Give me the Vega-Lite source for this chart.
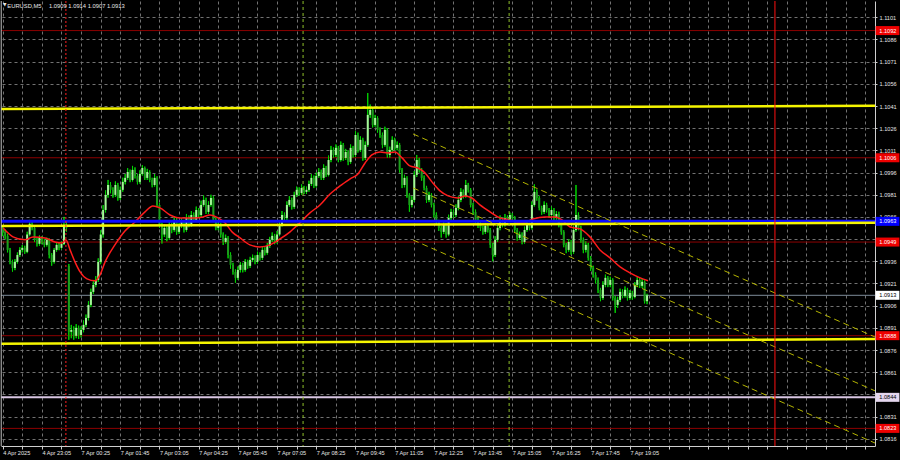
{
"$schema": "https://vega.github.io/schema/vega-lite/v6.json",
"width": 874, "height": 445,
"autosize": {"type": "none"},
"padding": {"left": 1, "top": 1, "right": 25, "bottom": 14},
"background": "#000000",
"config": {"view": {"stroke": null}, "axis": {"labelOverlap": false, "labelFlush": false, "labelBound": false, "tickCount": 100}},
"datasets": {
"boxes": [
{"p":1.1092,"lab":"1.1092","k":"r"},{"p":1.1006,"lab":"1.1006","k":"r"},{"p":1.0963,"lab":"1.0963","k":"b"},{"p":1.0949,"lab":"1.0949","k":"r"},{"p":1.0913,"lab":"1.0913","k":"w"},{"p":1.08857,"lab":"1.0888","k":"r"},{"p":1.0844,"lab":"1.0844","k":"v"},{"p":1.0823,"lab":"1.0823","k":"r"}
],
"candles": [
{"i":0,"o":1.0958,"h":1.096,"l":1.0953,"c":1.09559},
{"i":1,"o":1.09559,"h":1.09575,"l":1.0951,"c":1.09532},
{"i":2,"o":1.09532,"h":1.09545,"l":1.0942,"c":1.09437},
{"i":3,"o":1.09437,"h":1.0945,"l":1.0934,"c":1.09356},
{"i":4,"o":1.09356,"h":1.0937,"l":1.0929,"c":1.09315},
{"i":5,"o":1.09315,"h":1.09375,"l":1.093,"c":1.09356},
{"i":6,"o":1.09356,"h":1.0942,"l":1.09345,"c":1.09403},
{"i":7,"o":1.09403,"h":1.09455,"l":1.0939,"c":1.09437},
{"i":8,"o":1.09437,"h":1.0947,"l":1.0942,"c":1.09451},
{"i":9,"o":1.09451,"h":1.09465,"l":1.0941,"c":1.09424},
{"i":10,"o":1.09424,"h":1.0956,"l":1.09415,"c":1.09541},
{"i":11,"o":1.09541,"h":1.0964,"l":1.0953,"c":1.09613},
{"i":12,"o":1.09613,"h":1.09625,"l":1.0957,"c":1.09586},
{"i":13,"o":1.09586,"h":1.09595,"l":1.0949,"c":1.09505},
{"i":14,"o":1.09505,"h":1.0952,"l":1.0946,"c":1.09478},
{"i":15,"o":1.09478,"h":1.09535,"l":1.09465,"c":1.09518},
{"i":16,"o":1.09518,"h":1.0953,"l":1.09475,"c":1.09491},
{"i":17,"o":1.09491,"h":1.0951,"l":1.09455,"c":1.09471},
{"i":18,"o":1.09471,"h":1.0952,"l":1.0946,"c":1.09505},
{"i":19,"o":1.09505,"h":1.09515,"l":1.0938,"c":1.09403},
{"i":20,"o":1.09403,"h":1.09415,"l":1.0933,"c":1.09356},
{"i":21,"o":1.09356,"h":1.0945,"l":1.09345,"c":1.09437},
{"i":22,"o":1.09437,"h":1.0949,"l":1.09425,"c":1.09471},
{"i":23,"o":1.09471,"h":1.09485,"l":1.09435,"c":1.09451},
{"i":24,"o":1.09451,"h":1.09495,"l":1.0944,"c":1.09478},
{"i":25,"o":1.09478,"h":1.0966,"l":1.0947,"c":1.09606},
{"i":26,"o":1.09606,"h":1.09625,"l":1.0956,"c":1.09586},
{"i":27,"o":1.09329,"h":1.09342,"l":1.08829,"c":1.08883},
{"i":28,"o":1.08883,"h":1.0893,"l":1.0884,"c":1.08896},
{"i":29,"o":1.08896,"h":1.0892,"l":1.0883,"c":1.08856},
{"i":30,"o":1.08856,"h":1.08935,"l":1.0884,"c":1.0891},
{"i":31,"o":1.0891,"h":1.08925,"l":1.08835,"c":1.08862},
{"i":32,"o":1.08862,"h":1.0892,"l":1.08845,"c":1.08896},
{"i":33,"o":1.08896,"h":1.0896,"l":1.0888,"c":1.0893},
{"i":34,"o":1.0893,"h":1.09,"l":1.08915,"c":1.08977},
{"i":35,"o":1.08977,"h":1.0909,"l":1.0896,"c":1.09065},
{"i":36,"o":1.09065,"h":1.09175,"l":1.0905,"c":1.09153},
{"i":37,"o":1.09153,"h":1.09225,"l":1.0914,"c":1.092},
{"i":38,"o":1.092,"h":1.0926,"l":1.09185,"c":1.09234},
{"i":39,"o":1.09234,"h":1.0938,"l":1.0922,"c":1.09356},
{"i":40,"o":1.09356,"h":1.0957,"l":1.0934,"c":1.09541},
{"i":41,"o":1.09541,"h":1.0974,"l":1.0952,"c":1.09707},
{"i":42,"o":1.09707,"h":1.0984,"l":1.0969,"c":1.09809},
{"i":43,"o":1.09809,"h":1.0991,"l":1.0979,"c":1.09876},
{"i":44,"o":1.09876,"h":1.09895,"l":1.0982,"c":1.09843},
{"i":45,"o":1.09843,"h":1.0986,"l":1.0979,"c":1.09809},
{"i":46,"o":1.09809,"h":1.099,"l":1.09795,"c":1.09876},
{"i":47,"o":1.09876,"h":1.0989,"l":1.0977,"c":1.09788},
{"i":48,"o":1.09788,"h":1.09865,"l":1.09775,"c":1.09843},
{"i":49,"o":1.09843,"h":1.09925,"l":1.0983,"c":1.09897},
{"i":50,"o":1.09897,"h":1.0995,"l":1.0988,"c":1.09924},
{"i":51,"o":1.09924,"h":1.0999,"l":1.0991,"c":1.09964},
{"i":52,"o":1.09964,"h":1.0998,"l":1.09895,"c":1.0991},
{"i":53,"o":1.0991,"h":1.10005,"l":1.099,"c":1.09978},
{"i":54,"o":1.09978,"h":1.09995,"l":1.0992,"c":1.09937},
{"i":55,"o":1.09937,"h":1.0995,"l":1.0988,"c":1.09897},
{"i":56,"o":1.09897,"h":1.09975,"l":1.09885,"c":1.09951},
{"i":57,"o":1.09951,"h":1.1001,"l":1.0994,"c":1.09991},
{"i":58,"o":1.09991,"h":1.1,"l":1.0991,"c":1.09924},
{"i":59,"o":1.09924,"h":1.09985,"l":1.0991,"c":1.09964},
{"i":60,"o":1.09964,"h":1.09975,"l":1.09895,"c":1.0991},
{"i":61,"o":1.0991,"h":1.09925,"l":1.0986,"c":1.09876},
{"i":62,"o":1.09876,"h":1.0995,"l":1.09865,"c":1.09924},
{"i":63,"o":1.09924,"h":1.09935,"l":1.09725,"c":1.09741},
{"i":64,"o":1.09741,"h":1.09755,"l":1.09585,"c":1.09606},
{"i":65,"o":1.09606,"h":1.0962,"l":1.0948,"c":1.09541},
{"i":66,"o":1.09541,"h":1.0961,"l":1.09525,"c":1.09586},
{"i":67,"o":1.09586,"h":1.096,"l":1.09495,"c":1.09518},
{"i":68,"o":1.09518,"h":1.09625,"l":1.09505,"c":1.09606},
{"i":69,"o":1.09606,"h":1.0962,"l":1.0955,"c":1.09572},
{"i":70,"o":1.09572,"h":1.09665,"l":1.0956,"c":1.0964},
{"i":71,"o":1.0964,"h":1.09655,"l":1.0954,"c":1.09559},
{"i":72,"o":1.09559,"h":1.0962,"l":1.09545,"c":1.09599},
{"i":73,"o":1.09599,"h":1.0965,"l":1.09585,"c":1.09626},
{"i":74,"o":1.09626,"h":1.0964,"l":1.09555,"c":1.09572},
{"i":75,"o":1.09572,"h":1.0968,"l":1.0956,"c":1.09653},
{"i":76,"o":1.09653,"h":1.0967,"l":1.0959,"c":1.09606},
{"i":77,"o":1.09606,"h":1.097,"l":1.09595,"c":1.09673},
{"i":78,"o":1.09673,"h":1.0969,"l":1.09625,"c":1.0964},
{"i":79,"o":1.0964,"h":1.0973,"l":1.0963,"c":1.09707},
{"i":80,"o":1.09707,"h":1.0972,"l":1.09655,"c":1.09673},
{"i":81,"o":1.09673,"h":1.0977,"l":1.0966,"c":1.09741},
{"i":82,"o":1.09741,"h":1.09805,"l":1.0973,"c":1.09775},
{"i":83,"o":1.09775,"h":1.0979,"l":1.0968,"c":1.09694},
{"i":84,"o":1.09694,"h":1.09765,"l":1.0968,"c":1.09741},
{"i":85,"o":1.09741,"h":1.0981,"l":1.0973,"c":1.09788},
{"i":86,"o":1.09788,"h":1.098,"l":1.09625,"c":1.0964},
{"i":87,"o":1.0964,"h":1.09655,"l":1.0957,"c":1.09586},
{"i":88,"o":1.09586,"h":1.0963,"l":1.0957,"c":1.09606},
{"i":89,"o":1.09606,"h":1.0962,"l":1.0952,"c":1.09541},
{"i":90,"o":1.09541,"h":1.09555,"l":1.0947,"c":1.09491},
{"i":91,"o":1.09491,"h":1.0954,"l":1.0948,"c":1.09518},
{"i":92,"o":1.09518,"h":1.0953,"l":1.0938,"c":1.09403},
{"i":93,"o":1.09403,"h":1.0942,"l":1.0931,"c":1.09336},
{"i":94,"o":1.09336,"h":1.0935,"l":1.0927,"c":1.09288},
{"i":95,"o":1.09288,"h":1.09305,"l":1.09215,"c":1.09248},
{"i":96,"o":1.09248,"h":1.09325,"l":1.09235,"c":1.09302},
{"i":97,"o":1.09302,"h":1.09355,"l":1.09285,"c":1.09336},
{"i":98,"o":1.09336,"h":1.0935,"l":1.09285,"c":1.09302},
{"i":99,"o":1.09302,"h":1.09375,"l":1.0929,"c":1.09356},
{"i":100,"o":1.09356,"h":1.0937,"l":1.0931,"c":1.09329},
{"i":101,"o":1.09329,"h":1.0939,"l":1.09315,"c":1.09369},
{"i":102,"o":1.09369,"h":1.09405,"l":1.09355,"c":1.09383},
{"i":103,"o":1.09383,"h":1.094,"l":1.0934,"c":1.09356},
{"i":104,"o":1.09356,"h":1.09425,"l":1.09345,"c":1.09403},
{"i":105,"o":1.09403,"h":1.0942,"l":1.09365,"c":1.09383},
{"i":106,"o":1.09383,"h":1.0946,"l":1.0937,"c":1.09437},
{"i":107,"o":1.09437,"h":1.09455,"l":1.094,"c":1.09417},
{"i":108,"o":1.09417,"h":1.09485,"l":1.09405,"c":1.09464},
{"i":109,"o":1.09464,"h":1.09525,"l":1.0945,"c":1.09505},
{"i":110,"o":1.09505,"h":1.09555,"l":1.0949,"c":1.09532},
{"i":111,"o":1.09532,"h":1.09545,"l":1.09475,"c":1.09491},
{"i":112,"o":1.09491,"h":1.09565,"l":1.0948,"c":1.09541},
{"i":113,"o":1.09541,"h":1.0963,"l":1.0953,"c":1.09606},
{"i":114,"o":1.09606,"h":1.097,"l":1.09595,"c":1.09673},
{"i":115,"o":1.09673,"h":1.0969,"l":1.09635,"c":1.09653},
{"i":116,"o":1.09653,"h":1.09765,"l":1.0964,"c":1.09741},
{"i":117,"o":1.09741,"h":1.098,"l":1.0973,"c":1.09775},
{"i":118,"o":1.09775,"h":1.0979,"l":1.0971,"c":1.09728},
{"i":119,"o":1.09728,"h":1.0983,"l":1.09715,"c":1.09809},
{"i":120,"o":1.09809,"h":1.09865,"l":1.09795,"c":1.09843},
{"i":121,"o":1.09843,"h":1.0986,"l":1.09805,"c":1.09822},
{"i":122,"o":1.09822,"h":1.0988,"l":1.0981,"c":1.09856},
{"i":123,"o":1.09856,"h":1.0987,"l":1.09815,"c":1.09829},
{"i":124,"o":1.09829,"h":1.09865,"l":1.09815,"c":1.09843},
{"i":125,"o":1.09843,"h":1.09905,"l":1.0983,"c":1.09883},
{"i":126,"o":1.09883,"h":1.0995,"l":1.0987,"c":1.09924},
{"i":127,"o":1.09924,"h":1.0994,"l":1.09855,"c":1.0987},
{"i":128,"o":1.0987,"h":1.0996,"l":1.0986,"c":1.09937},
{"i":129,"o":1.09937,"h":1.0999,"l":1.09925,"c":1.09964},
{"i":130,"o":1.09964,"h":1.0998,"l":1.0991,"c":1.09924},
{"i":131,"o":1.09924,"h":1.10015,"l":1.0991,"c":1.09991},
{"i":132,"o":1.09991,"h":1.10005,"l":1.0993,"c":1.09944},
{"i":133,"o":1.09944,"h":1.10075,"l":1.09935,"c":1.10045},
{"i":134,"o":1.10045,"h":1.1014,"l":1.1003,"c":1.10113},
{"i":135,"o":1.10113,"h":1.1013,"l":1.1006,"c":1.10079},
{"i":136,"o":1.10079,"h":1.1015,"l":1.10065,"c":1.10127},
{"i":137,"o":1.10127,"h":1.1014,"l":1.1003,"c":1.10045},
{"i":138,"o":1.10045,"h":1.1017,"l":1.10035,"c":1.10147},
{"i":139,"o":1.10147,"h":1.1016,"l":1.1004,"c":1.10059},
{"i":140,"o":1.10059,"h":1.1012,"l":1.10045,"c":1.10099},
{"i":141,"o":1.10099,"h":1.1011,"l":1.1001,"c":1.10032},
{"i":142,"o":1.10032,"h":1.1015,"l":1.1002,"c":1.10127},
{"i":143,"o":1.10127,"h":1.1014,"l":1.1006,"c":1.10079},
{"i":144,"o":1.10079,"h":1.1024,"l":1.10065,"c":1.10214},
{"i":145,"o":1.10214,"h":1.1023,"l":1.10095,"c":1.10113},
{"i":146,"o":1.10113,"h":1.10205,"l":1.101,"c":1.10181},
{"i":147,"o":1.10181,"h":1.10195,"l":1.1004,"c":1.10059},
{"i":148,"o":1.10059,"h":1.1017,"l":1.10045,"c":1.10147},
{"i":149,"o":1.10147,"h":1.10498,"l":1.10135,"c":1.1035},
{"i":150,"o":1.1035,"h":1.1042,"l":1.1033,"c":1.10383},
{"i":151,"o":1.10383,"h":1.10395,"l":1.10265,"c":1.10282},
{"i":152,"o":1.10282,"h":1.1035,"l":1.1027,"c":1.10329},
{"i":153,"o":1.10329,"h":1.1034,"l":1.1023,"c":1.10248},
{"i":154,"o":1.10248,"h":1.10265,"l":1.10195,"c":1.10214},
{"i":155,"o":1.10214,"h":1.1023,"l":1.10125,"c":1.10147},
{"i":156,"o":1.10147,"h":1.1027,"l":1.10135,"c":1.10248},
{"i":157,"o":1.10248,"h":1.1026,"l":1.1006,"c":1.10079},
{"i":158,"o":1.10079,"h":1.10135,"l":1.1006,"c":1.10113},
{"i":159,"o":1.10113,"h":1.10205,"l":1.101,"c":1.10181},
{"i":160,"o":1.10181,"h":1.10195,"l":1.1011,"c":1.10127},
{"i":161,"o":1.10127,"h":1.1017,"l":1.1011,"c":1.10147},
{"i":162,"o":1.10147,"h":1.1016,"l":1.0996,"c":1.09978},
{"i":163,"o":1.09978,"h":1.0999,"l":1.09855,"c":1.09876},
{"i":164,"o":1.09876,"h":1.09945,"l":1.0986,"c":1.09924},
{"i":165,"o":1.09924,"h":1.09935,"l":1.0979,"c":1.09809},
{"i":166,"o":1.09809,"h":1.0982,"l":1.09695,"c":1.09741},
{"i":167,"o":1.09741,"h":1.098,"l":1.09725,"c":1.09775},
{"i":168,"o":1.09775,"h":1.0997,"l":1.0976,"c":1.09944},
{"i":169,"o":1.09944,"h":1.10079,"l":1.0993,"c":1.10045},
{"i":170,"o":1.10045,"h":1.1006,"l":1.0996,"c":1.09978},
{"i":171,"o":1.09978,"h":1.0999,"l":1.09905,"c":1.09924},
{"i":172,"o":1.09924,"h":1.0994,"l":1.0984,"c":1.09856},
{"i":173,"o":1.09856,"h":1.0987,"l":1.09755,"c":1.09775},
{"i":174,"o":1.09775,"h":1.0983,"l":1.0976,"c":1.09809},
{"i":175,"o":1.09809,"h":1.0982,"l":1.09725,"c":1.09741},
{"i":176,"o":1.09741,"h":1.09755,"l":1.09655,"c":1.09673},
{"i":177,"o":1.09673,"h":1.0969,"l":1.09605,"c":1.09626},
{"i":178,"o":1.09626,"h":1.0964,"l":1.09565,"c":1.09586},
{"i":179,"o":1.09586,"h":1.096,"l":1.0952,"c":1.09559},
{"i":180,"o":1.09559,"h":1.09625,"l":1.09545,"c":1.09606},
{"i":181,"o":1.09606,"h":1.0962,"l":1.0952,"c":1.09541},
{"i":182,"o":1.09541,"h":1.09675,"l":1.0953,"c":1.09653},
{"i":183,"o":1.09653,"h":1.09715,"l":1.0964,"c":1.09694},
{"i":184,"o":1.09694,"h":1.0971,"l":1.09655,"c":1.09673},
{"i":185,"o":1.09673,"h":1.09745,"l":1.0966,"c":1.09721},
{"i":186,"o":1.09721,"h":1.098,"l":1.09705,"c":1.09775},
{"i":187,"o":1.09775,"h":1.09855,"l":1.0976,"c":1.09829},
{"i":188,"o":1.09829,"h":1.09845,"l":1.09785,"c":1.09802},
{"i":189,"o":1.09802,"h":1.0991,"l":1.0979,"c":1.09876},
{"i":190,"o":1.09876,"h":1.0989,"l":1.09825,"c":1.09843},
{"i":191,"o":1.09843,"h":1.09855,"l":1.09725,"c":1.09741},
{"i":192,"o":1.09741,"h":1.09755,"l":1.09675,"c":1.09694},
{"i":193,"o":1.09694,"h":1.0971,"l":1.0962,"c":1.0964},
{"i":194,"o":1.0964,"h":1.09655,"l":1.09585,"c":1.09606},
{"i":195,"o":1.09606,"h":1.09625,"l":1.09565,"c":1.09586},
{"i":196,"o":1.09586,"h":1.096,"l":1.0954,"c":1.09559},
{"i":197,"o":1.09559,"h":1.0962,"l":1.09545,"c":1.09599},
{"i":198,"o":1.09599,"h":1.09615,"l":1.09555,"c":1.09572},
{"i":199,"o":1.09572,"h":1.09585,"l":1.0945,"c":1.09471},
{"i":200,"o":1.09471,"h":1.09485,"l":1.0936,"c":1.09403},
{"i":201,"o":1.09403,"h":1.0953,"l":1.0939,"c":1.09505},
{"i":202,"o":1.09505,"h":1.0961,"l":1.0949,"c":1.09586},
{"i":203,"o":1.09586,"h":1.0967,"l":1.0957,"c":1.0964},
{"i":204,"o":1.0964,"h":1.09655,"l":1.0959,"c":1.09606},
{"i":205,"o":1.09606,"h":1.0968,"l":1.09595,"c":1.09653},
{"i":206,"o":1.09653,"h":1.0967,"l":1.09625,"c":1.0964},
{"i":207,"o":1.0964,"h":1.0969,"l":1.09625,"c":1.09673},
{"i":208,"o":1.09673,"h":1.09685,"l":1.0964,"c":1.09653},
{"i":209,"o":1.09653,"h":1.09665,"l":1.09555,"c":1.09572},
{"i":210,"o":1.09572,"h":1.09585,"l":1.095,"c":1.09518},
{"i":211,"o":1.09518,"h":1.0956,"l":1.09505,"c":1.09541},
{"i":212,"o":1.09541,"h":1.09555,"l":1.09475,"c":1.09491},
{"i":213,"o":1.09491,"h":1.09595,"l":1.0948,"c":1.09572},
{"i":214,"o":1.09572,"h":1.0963,"l":1.0956,"c":1.09606},
{"i":215,"o":1.09606,"h":1.0962,"l":1.0957,"c":1.09586},
{"i":216,"o":1.09586,"h":1.09765,"l":1.09575,"c":1.09741},
{"i":217,"o":1.09741,"h":1.0988,"l":1.0973,"c":1.09829},
{"i":218,"o":1.09829,"h":1.09845,"l":1.0977,"c":1.09788},
{"i":219,"o":1.09788,"h":1.098,"l":1.09705,"c":1.09721},
{"i":220,"o":1.09721,"h":1.09735,"l":1.09675,"c":1.09694},
{"i":221,"o":1.09694,"h":1.09765,"l":1.0968,"c":1.09741},
{"i":222,"o":1.09741,"h":1.09755,"l":1.0969,"c":1.09707},
{"i":223,"o":1.09707,"h":1.0972,"l":1.09655,"c":1.09673},
{"i":224,"o":1.09673,"h":1.0973,"l":1.0966,"c":1.09707},
{"i":225,"o":1.09707,"h":1.0972,"l":1.09635,"c":1.09653},
{"i":226,"o":1.09653,"h":1.097,"l":1.0964,"c":1.0968},
{"i":227,"o":1.0968,"h":1.09695,"l":1.0959,"c":1.09606},
{"i":228,"o":1.09606,"h":1.0962,"l":1.0954,"c":1.09559},
{"i":229,"o":1.09559,"h":1.0957,"l":1.09455,"c":1.09471},
{"i":230,"o":1.09471,"h":1.09485,"l":1.09415,"c":1.09437},
{"i":231,"o":1.09437,"h":1.0951,"l":1.09425,"c":1.09491},
{"i":232,"o":1.09491,"h":1.09505,"l":1.09405,"c":1.09424},
{"i":233,"o":1.09424,"h":1.096,"l":1.0941,"c":1.09572},
{"i":234,"o":1.09572,"h":1.09876,"l":1.0956,"c":1.09673},
{"i":235,"o":1.09673,"h":1.0969,"l":1.0957,"c":1.09586},
{"i":236,"o":1.09586,"h":1.096,"l":1.09485,"c":1.09505},
{"i":237,"o":1.09505,"h":1.0952,"l":1.09415,"c":1.09437},
{"i":238,"o":1.09437,"h":1.09495,"l":1.0942,"c":1.09471},
{"i":239,"o":1.09471,"h":1.09485,"l":1.09365,"c":1.09383},
{"i":240,"o":1.09383,"h":1.09395,"l":1.09295,"c":1.09315},
{"i":241,"o":1.09315,"h":1.0933,"l":1.0925,"c":1.09268},
{"i":242,"o":1.09268,"h":1.09285,"l":1.0921,"c":1.09234},
{"i":243,"o":1.09234,"h":1.0925,"l":1.09145,"c":1.09167},
{"i":244,"o":1.09167,"h":1.0918,"l":1.0909,"c":1.09112},
{"i":245,"o":1.09112,"h":1.09225,"l":1.091,"c":1.092},
{"i":246,"o":1.092,"h":1.0927,"l":1.09185,"c":1.09248},
{"i":247,"o":1.09248,"h":1.0926,"l":1.09185,"c":1.092},
{"i":248,"o":1.092,"h":1.09255,"l":1.09185,"c":1.09234},
{"i":249,"o":1.09234,"h":1.09245,"l":1.09095,"c":1.09112},
{"i":250,"o":1.09112,"h":1.09125,"l":1.09011,"c":1.09065},
{"i":251,"o":1.09065,"h":1.0912,"l":1.09045,"c":1.09099},
{"i":252,"o":1.09099,"h":1.09175,"l":1.09085,"c":1.09153},
{"i":253,"o":1.09153,"h":1.0917,"l":1.0911,"c":1.09126},
{"i":254,"o":1.09126,"h":1.0919,"l":1.09115,"c":1.09167},
{"i":255,"o":1.09167,"h":1.0918,"l":1.09095,"c":1.09112},
{"i":256,"o":1.09112,"h":1.09165,"l":1.091,"c":1.09146},
{"i":257,"o":1.09146,"h":1.0916,"l":1.091,"c":1.09119},
{"i":258,"o":1.09119,"h":1.0922,"l":1.0911,"c":1.092},
{"i":259,"o":1.092,"h":1.09255,"l":1.09185,"c":1.09234},
{"i":260,"o":1.09234,"h":1.0925,"l":1.0918,"c":1.09194},
{"i":261,"o":1.09194,"h":1.0924,"l":1.0918,"c":1.09221},
{"i":262,"o":1.09221,"h":1.0923,"l":1.09075,"c":1.0909},
{"i":263,"o":1.0909,"h":1.0914,"l":1.0907,"c":1.0913}
],
"ma": [
{"i":0.1,"m":1.09586},{"i":4.2,"m":1.09525},{"i":9.1,"m":1.09505},{"i":12.4,"m":1.09525},{"i":17.3,"m":1.09518},{"i":21.3,"m":1.09491},{"i":24.2,"m":1.09484},{"i":25.8,"m":1.09505},{"i":27.5,"m":1.09437},{"i":29.5,"m":1.09356},{"i":31.6,"m":1.09288},{"i":34.4,"m":1.09241},{"i":37.7,"m":1.09228},{"i":39.7,"m":1.09268},{"i":41.8,"m":1.09356},{"i":45.8,"m":1.09471},{"i":49.9,"m":1.09565},{"i":54,"m":1.09626},{"i":58.1,"m":1.09694},{"i":61.3,"m":1.09734},{"i":64.2,"m":1.09721},{"i":68.3,"m":1.09673},{"i":72.4,"m":1.09653},{"i":78.5,"m":1.09653},{"i":81.8,"m":1.0966},{"i":84.6,"m":1.09673},{"i":87.9,"m":1.09653},{"i":90.7,"m":1.0962},{"i":93.6,"m":1.09559},{"i":96.9,"m":1.09518},{"i":100.9,"m":1.09471},{"i":105,"m":1.09457},{"i":109.1,"m":1.09471},{"i":113.2,"m":1.09511},{"i":117.3,"m":1.09559},{"i":121.3,"m":1.0962},{"i":125.4,"m":1.09687},{"i":129.5,"m":1.09741},{"i":133.6,"m":1.09815},{"i":137.7,"m":1.0987},{"i":141.8,"m":1.09917},{"i":145,"m":1.09951},{"i":147.9,"m":1.10025},{"i":150.7,"m":1.10079},{"i":154,"m":1.10099},{"i":157.3,"m":1.10093},{"i":160.1,"m":1.10099},{"i":163,"m":1.10059},{"i":166.2,"m":1.10005},{"i":169.5,"m":1.09991},{"i":172.4,"m":1.09957},{"i":175.2,"m":1.09897},{"i":178.5,"m":1.09836},{"i":181.8,"m":1.09802},{"i":185.8,"m":1.09788},{"i":188.7,"m":1.09802},{"i":191.5,"m":1.09788},{"i":194.8,"m":1.09741},{"i":198.9,"m":1.09694},{"i":203,"m":1.09653},{"i":207.1,"m":1.0964},{"i":209.9,"m":1.09626},{"i":213.2,"m":1.09626},{"i":216.4,"m":1.09646},{"i":221.3,"m":1.0966},{"i":225.4,"m":1.0966},{"i":228.3,"m":1.0964},{"i":231.6,"m":1.09592},{"i":235.6,"m":1.09579},{"i":239.7,"m":1.09525},{"i":243.8,"m":1.09437},{"i":247.9,"m":1.09383},{"i":252,"m":1.09322},{"i":256,"m":1.09282},{"i":260.2,"m":1.09248},{"i":263.4,"m":1.09228}
]
},
"layer": [
{
"data": {"name": "candles"},
"mark": {"type": "rule", "color": "#00d400", "strokeWidth": 1},
"encoding": {
"x": {"field": "i", "type": "quantitative", "scale": {"domain": [-0.69, 356.04], "nice": false, "zero": false},
"axis": {"orient": "bottom", "title": null, "tickCount": 100, "values": [0,8,16,24,32,40,48,56,64,72,80,88,96,104,112,120,128,136,144,152,160,168,176,184,192,200,208,216,224,232,240,248,256,264,272,280,288,296,304,312,320,328,336,344,352],
"labelExpr": "datum.value % 16 == 0 && datum.value <= 256 ? ['4 Apr 2025','4 Apr 23:05','7 Apr 00:25','7 Apr 01:45','7 Apr 03:05','7 Apr 04:25','7 Apr 05:45','7 Apr 07:05','7 Apr 08:25','7 Apr 09:45','7 Apr 11:05','7 Apr 12:25','7 Apr 13:45','7 Apr 15:05','7 Apr 16:25','7 Apr 17:45','7 Apr 19:05'][datum.value / 16] : ''",
"labelAlign": "left", "labelBaseline": "top", "labelFlush": false, "labelOverlap": false, "labelBound": false,
"labelFont": "Liberation Sans", "labelFontSize": 5.6, "labelColor": "#e6e6e6", "labelPadding": 1,
"tickSize": 3, "tickColor": "#cfcfcf", "domainColor": "#cfcfcf", "domainWidth": 1,
"grid": true, "gridColor": "#727272", "gridDash": [3, 3], "gridWidth": 1}},
"y": {"field": "l", "type": "quantitative", "scale": {"domain": [1.08111, 1.1112], "nice": false, "zero": false},
"axis": {"orient": "right", "title": null, "tickCount": 100, "values": [1.0816,1.0831,1.0846,1.0861,1.0876,1.0891,1.0906,1.0921,1.0936,1.0951,1.0966,1.0981,1.0996,1.1011,1.1026,1.1041,1.1056,1.1071,1.1086,1.1101],
"format": ".4f", "labelExpr": "datum.label == '1.0951' || datum.label == '1.0846' ? '' : datum.label",
"labelFont": "Liberation Sans", "labelFontSize": 5.6, "labelColor": "#e6e6e6", "labelPadding": 2, "labelOverlap": false, "labelFlush": false, "labelBound": false,
"tickSize": 2, "tickColor": "#cfcfcf", "domainColor": "#cfcfcf", "domainWidth": 1,
"grid": true, "gridColor": "#727272", "gridDash": [3, 3], "gridWidth": 1}},
"y2": {"field": "h"}
}
},
{
"data": {"values": [{"p":1.1092},{"p":1.1006},{"p":1.0949},{"p":1.08857},{"p":1.0823}]},
"mark": {"type": "rule", "color": "#8c0000", "strokeWidth": 1},
"encoding": {"y": {"field": "p", "type": "quantitative", "scale": {"domain": [1.08111, 1.1112], "nice": false, "zero": false}}}
},
{
"data": {"values": [{"p":1.0913}]},
"mark": {"type": "rule", "color": "#7d8b99", "strokeWidth": 1},
"encoding": {"y": {"field": "p", "type": "quantitative", "scale": {"domain": [1.08111, 1.1112], "nice": false, "zero": false}}}
},
{
"data": {"values": [{"p":1.0844}]},
"mark": {"type": "rule", "color": "#d9c6e3", "strokeWidth": 2},
"encoding": {"y": {"field": "p", "type": "quantitative", "scale": {"domain": [1.08111, 1.1112], "nice": false, "zero": false}}}
},
{
"data": {"name": "candles"},
"mark": {"type": "rule", "color": "#00d400", "strokeWidth": 1},
"encoding": {
"x": {"field": "i", "type": "quantitative", "scale": {"domain": [-0.69, 356.04], "nice": false, "zero": false}},
"y": {"field": "l", "type": "quantitative", "scale": {"domain": [1.08111, 1.1112], "nice": false, "zero": false}},
"y2": {"field": "h"}
}
},
{
"data": {"name": "candles"},
"mark": {"type": "rule", "strokeWidth": 2, "strokeCap": "butt"},
"encoding": {
"x": {"field": "i", "type": "quantitative", "scale": {"domain": [-0.69, 356.04], "nice": false, "zero": false}},
"y": {"field": "o", "type": "quantitative", "scale": {"domain": [1.08111, 1.1112], "nice": false, "zero": false}},
"y2": {"field": "c"},
"color": {"condition": {"test": "datum.c >= datum.o", "value": "#a6f79a"}, "value": "#1c9e1c"}
}
},
{
"data": {"name": "ma"},
"mark": {"type": "line", "color": "#ff1c1c", "strokeWidth": 1.5, "interpolate": "monotone"},
"encoding": {
"x": {"field": "i", "type": "quantitative", "scale": {"domain": [-0.69, 356.04], "nice": false, "zero": false}},
"y": {"field": "m", "type": "quantitative", "scale": {"domain": [1.08111, 1.1112], "nice": false, "zero": false}}
}
},
{
"data": {"values": [{"p":1.0963}]},
"mark": {"type": "rule", "color": "#0b0bff", "strokeWidth": 3},
"encoding": {"y": {"field": "p", "type": "quantitative", "scale": {"domain": [1.08111, 1.1112], "nice": false, "zero": false}}}
},
{
"data": {"values": [{"id":"a","i":-0.69,"p":1.1039},{"id":"a","i":356.04,"p":1.10411},{"id":"b","i":-0.69,"p":1.09599},{"id":"b","i":356.04,"p":1.0962},{"id":"c","i":-0.69,"p":1.08802},{"id":"c","i":356.04,"p":1.08834}]},
"mark": {"type": "line", "color": "#f5f500", "strokeWidth": 2.5},
"encoding": {
"x": {"field": "i", "type": "quantitative", "scale": {"domain": [-0.69, 356.04], "nice": false, "zero": false}},
"y": {"field": "p", "type": "quantitative", "scale": {"domain": [1.08111, 1.1112], "nice": false, "zero": false}},
"detail": {"field": "id"}
}
},
{
"data": {"values": [{"id":"u","i":167.5,"p":1.10221},{"id":"u","i":356.04,"p":1.08848},{"id":"m","i":167.5,"p":1.09856},{"id":"m","i":356.04,"p":1.08484},{"id":"d","i":167.5,"p":1.09504},{"id":"d","i":356.04,"p":1.08131}]},
"mark": {"type": "line", "color": "#b4b400", "strokeWidth": 1, "strokeDash": [6, 4]},
"encoding": {
"x": {"field": "i", "type": "quantitative", "scale": {"domain": [-0.69, 356.04], "nice": false, "zero": false}},
"y": {"field": "p", "type": "quantitative", "scale": {"domain": [1.08111, 1.1112], "nice": false, "zero": false}},
"detail": {"field": "id"}
}
},
{
"data": {"values": [{"i":122.6},{"i":206.7}]},
"mark": {"type": "rule", "color": "#8fbf2a", "strokeWidth": 1, "strokeDash": [3, 3]},
"encoding": {"x": {"field": "i", "type": "quantitative", "scale": {"domain": [-0.69, 356.04], "nice": false, "zero": false}}}
},
{
"data": {"values": [{"i":25.8}]},
"mark": {"type": "rule", "color": "#ff2020", "strokeWidth": 1, "strokeDash": [2, 2]},
"encoding": {"x": {"field": "i", "type": "quantitative", "scale": {"domain": [-0.69, 356.04], "nice": false, "zero": false}}}
},
{
"data": {"values": [{"i":315.2}]},
"mark": {"type": "rule", "color": "#ff1010", "strokeWidth": 1},
"encoding": {"x": {"field": "i", "type": "quantitative", "scale": {"domain": [-0.69, 356.04], "nice": false, "zero": false}}}
},
{
"data": {"values": [{"i":-0.6}]},
"mark": {"type": "rule", "color": "#bdbdbd", "strokeWidth": 1},
"encoding": {"x": {"field": "i", "type": "quantitative", "scale": {"domain": [-0.69, 356.04], "nice": false, "zero": false}}}
},
{
"data": {"name": "boxes"},
"mark": {"type": "rule", "strokeWidth": 9, "strokeCap": "butt"},
"encoding": {
"x": {"datum": 356.3, "type": "quantitative", "scale": {"domain": [-0.69, 356.04], "nice": false, "zero": false}},
"x2": {"datum": 366},
"y": {"field": "p", "type": "quantitative", "scale": {"domain": [1.08111, 1.1112], "nice": false, "zero": false}},
"stroke": {"field": "k", "type": "nominal", "scale": {"domain": ["r","b","w","v"], "range": ["#ee0000","#0000ff","#ffffff","#e4d6ee"]}, "legend": null}
}
},
{
"data": {"name": "boxes"},
"mark": {"type": "text", "align": "left", "baseline": "middle", "font": "Liberation Sans", "fontSize": 5.6},
"encoding": {
"x": {"datum": 357.8, "type": "quantitative", "scale": {"domain": [-0.69, 356.04], "nice": false, "zero": false}},
"y": {"field": "p", "type": "quantitative", "scale": {"domain": [1.08111, 1.1112], "nice": false, "zero": false}},
"text": {"field": "lab"},
"fill": {"field": "k", "type": "nominal", "scale": {"domain": ["r","b","w","v"], "range": ["#ffffff","#ffffff","#000000","#000000"]}, "legend": null}
}
},
{
"data": {"values": [{"i":1.9,"p":1.11086,"t":"EURUSD,M5"},{"i":18.9,"p":1.11086,"t":"1.0909 1.0914 1.0907 1.0913"}]},
"mark": {"type": "text", "align": "left", "baseline": "middle", "font": "Liberation Sans", "fontSize": 5.8, "color": "#e6e6e6"},
"encoding": {
"x": {"field": "i", "type": "quantitative", "scale": {"domain": [-0.69, 356.04], "nice": false, "zero": false}},
"y": {"field": "p", "type": "quantitative", "scale": {"domain": [1.08111, 1.1112], "nice": false, "zero": false}},
"text": {"field": "t"}
}
},
{
"data": {"values": [{"i":0.1,"p":1.1109,"t":"▼"}]},
"mark": {"type": "text", "align": "left", "baseline": "middle", "font": "DejaVu Sans", "fontSize": 4.5, "color": "#e6e6e6"},
"encoding": {
"x": {"field": "i", "type": "quantitative", "scale": {"domain": [-0.69, 356.04], "nice": false, "zero": false}},
"y": {"field": "p", "type": "quantitative", "scale": {"domain": [1.08111, 1.1112], "nice": false, "zero": false}},
"text": {"field": "t"}
}
}
]
}
